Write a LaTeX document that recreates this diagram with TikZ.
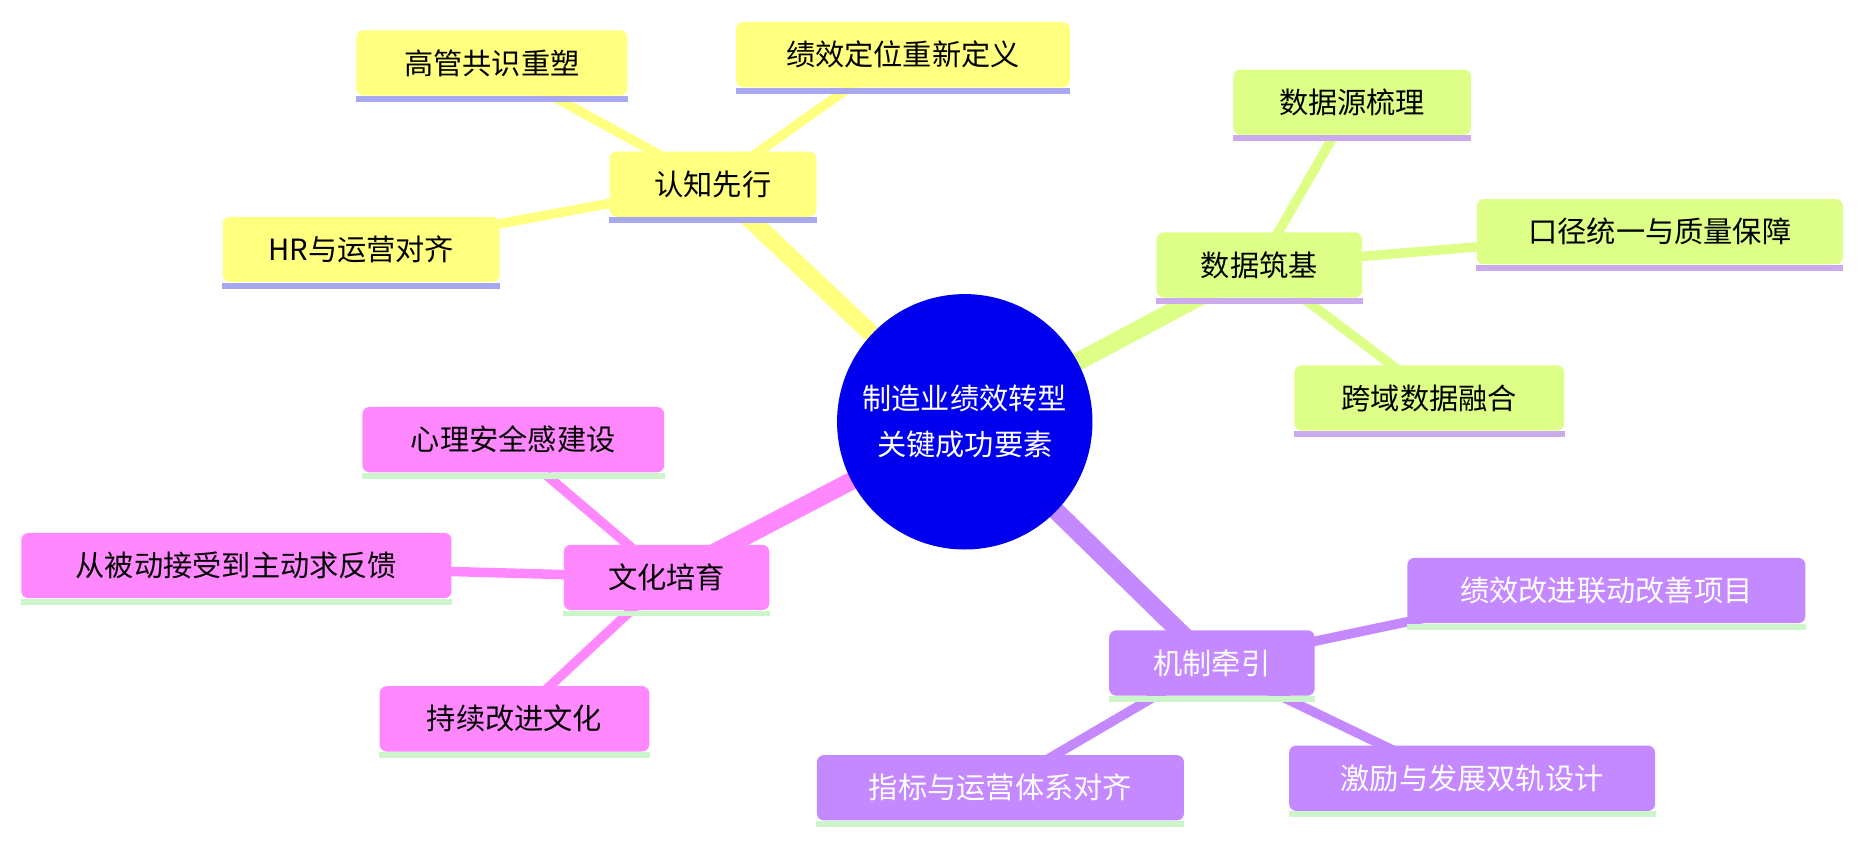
\documentclass[tikz,border=0pt]{standalone}
\usepackage{fontspec}
\setmainfont{Noto Sans CJK SC}
\definecolor{cy}{HTML}{FFFF80}
\definecolor{cg}{HTML}{DDFF88}
\definecolor{cp}{HTML}{FF88FF}
\definecolor{cv}{HTML}{C488FF}
\definecolor{uy}{HTML}{A8A8F0}
\definecolor{ug}{HTML}{CCAAEE}
\definecolor{ul}{HTML}{CCF5CC}
\definecolor{rootc}{HTML}{0000EE}
\newcommand{\mmbox}[7]{% name, pos, width, fill, underline, textcolor, text
 \node[box, fill=#4, text=#6, minimum width=#3*0.02cm] (#1) at #2 {#7};
 \draw[line width=0.1cm, #5] ([yshift=-0.05cm]#1.south west) -- ([yshift=-0.05cm]#1.south east);
}
\begin{document}
\begin{tikzpicture}[x=0.02cm,y=-0.02cm,
 box/.style={rounded corners=0.12cm, minimum height=1.1cm, inner sep=0pt, font=\fontsize{14}{16}\selectfont},
 trunk/.style={line width=0.3cm},
 twig/.style={line width=0.16cm}]
\useasboundingbox (0,0) rectangle (1568,708);
% connectors
\coordinate (R) at (812,355);
\coordinate (A) at (600,155); \coordinate (B) at (1060,223);
\coordinate (C) at (561,486); \coordinate (D) at (1020,558);
\draw[twig,cy] (A) -- (414,53) coordinate (a1);
\draw[twig,cy] (A) -- (720,70) coordinate (a2);
\draw[twig,cy] (A) -- (304,210) coordinate (a3);
\draw[twig,cg] (B) -- (1125,110) coordinate (b1);
\draw[twig,cg] (B) -- (1397,195) coordinate (b2);
\draw[twig,cg] (B) -- (1175,310) coordinate (b3);
\draw[twig,cp] (C) -- (460,400) coordinate (c1);
\draw[twig,cp] (C) -- (199,476) coordinate (c2);
\draw[twig,cp] (C) -- (460,580) coordinate (c3);
\draw[twig,cv] (D) -- (1200,520) coordinate (d1);
\draw[twig,cv] (D) -- (880,640) coordinate (d2);
\draw[twig,cv] (D) -- (1180,635) coordinate (d3);
\draw[trunk,cy] (R) -- (A);
\draw[trunk,cg] (R) -- (B);
\draw[trunk,cp] (R) -- (C);
\draw[trunk,cv] (R) -- (D);
% nodes
\node[circle, fill=rootc, text=white, minimum size=4.3cm, align=center, font=\fontsize{14}{22}\selectfont] (root) at (R) {制造业绩效转型\\关键成功要素};
\mmbox{n1}{(A)}{174}{cy}{uy}{black}{认知先行}
\mmbox{n11}{(414,53)}{228}{cy}{uy}{black}{高管共识重塑}
\mmbox{n12}{(760,46)}{281}{cy}{uy}{black}{绩效定位重新定义}
\mmbox{n13}{(304,210)}{233}{cy}{uy}{black}{HR与运营对齐}
\mmbox{n2}{(B)}{173}{cg}{ug}{black}{数据筑基}
\mmbox{n21}{(1138,86)}{200}{cg}{ug}{black}{数据源梳理}
\mmbox{n22}{(1397,195)}{308}{cg}{ug}{black}{口径统一与质量保障}
\mmbox{n23}{(1203,335)}{227}{cg}{ug}{black}{跨域数据融合}
\mmbox{n3}{(C)}{173}{cp}{ul}{black}{文化培育}
\mmbox{n31}{(432,370)}{254}{cp}{ul}{black}{心理安全感建设}
\mmbox{n32}{(199,476)}{362}{cp}{ul}{black}{从被动接受到主动求反馈}
\mmbox{n33}{(433,605)}{227}{cp}{ul}{black}{持续改进文化}
\mmbox{n4}{(D)}{173}{cv}{ul}{white}{机制牵引}
\mmbox{n41}{(1352,497)}{335}{cv}{ul}{white}{绩效改进联动改善项目}
\mmbox{n42}{(842,663)}{309}{cv}{ul}{white}{指标与运营体系对齐}
\mmbox{n43}{(1239,655)}{308}{cv}{ul}{white}{激励与发展双轨设计}
\end{tikzpicture}
\end{document}
